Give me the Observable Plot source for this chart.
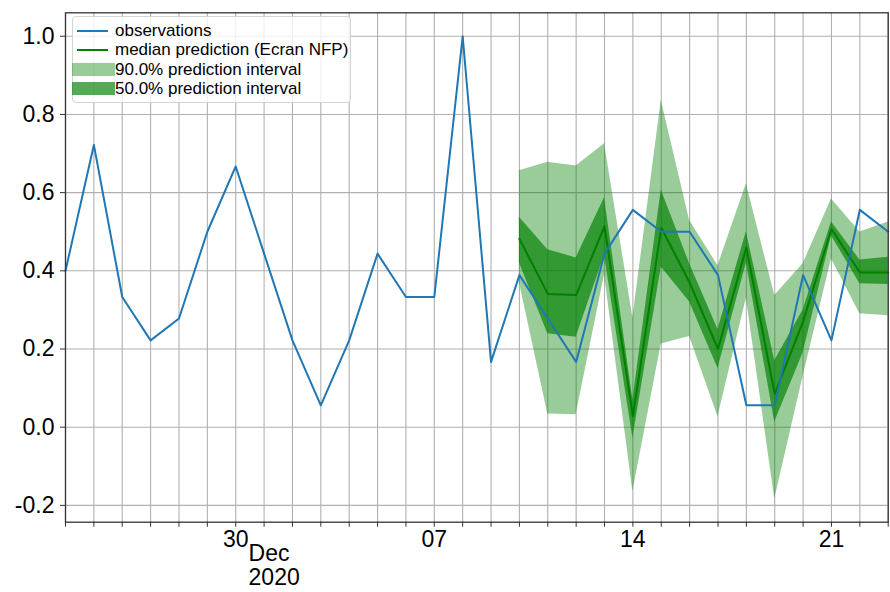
<!DOCTYPE html>
<html>
<head>
<meta charset="utf-8">
<script src="https://cdn.jsdelivr.net/npm/d3@7"></script>
<script src="https://cdn.jsdelivr.net/npm/@observablehq/plot@0.6"></script>
<style>
  html, body { margin: 0; padding: 0; background: white; }
  #wrap { position: relative; width: 890px; height: 592px; font-family: "Liberation Sans", Arial, sans-serif; }
  #legend {
    position: absolute; left: 72px; top: 16px; width: 277px; height: 85px;
    border: 1px solid #d4d4d4; border-radius: 4px; background: rgba(255,255,255,0.8);
    font-size: 17px; color: #000;
  }
  #legend .sw { position: absolute; }
  #legend .lab { position: absolute; left: 42px; line-height: 19px; white-space: nowrap; }
</style>
</head>
<body>
<div id="wrap"></div>
<script>
// Daily observations, 24 Nov – 23 Dec 2020
const obsStart = new Date(Date.UTC(2020, 10, 24));
const observations = [0.4, 0.722, 0.333, 0.222, 0.278, 0.5, 0.667, 0.444, 0.222, 0.056,
  0.222, 0.444, 0.333, 0.333, 1.0, 0.167, 0.389, 0.278, 0.167, 0.444,
  0.556, 0.5, 0.5, 0.389, 0.056, 0.056, 0.389, 0.222, 0.556, 0.5];

// Forecast, 10 Dec – 23 Dec 2020
const fcStart = new Date(Date.UTC(2020, 11, 10));
const median = [0.482, 0.341, 0.338, 0.514, 0.028, 0.51, 0.37, 0.2, 0.46, 0.085, 0.27, 0.507, 0.396, 0.396];
const hi90 = [0.656, 0.678, 0.668, 0.725, 0.28, 0.836, 0.529, 0.413, 0.623, 0.337, 0.418, 0.584, 0.499, 0.525];
const lo90 = [0.37, 0.034, 0.032, 0.39, -0.165, 0.213, 0.232, 0.027, 0.33, -0.184, 0.13, 0.43, 0.29, 0.285];
const hi50 = [0.537, 0.454, 0.433, 0.587, 0.07, 0.607, 0.418, 0.25, 0.5, 0.17, 0.3, 0.525, 0.428, 0.435];
const lo50 = [0.42, 0.239, 0.23, 0.44, -0.028, 0.41, 0.32, 0.15, 0.42, 0.013, 0.19, 0.49, 0.367, 0.365];

// Axis ticks
const yTicks = [-0.2, 0, 0.2, 0.4, 0.6, 0.8, 1.0];
const weekTicks = [new Date(Date.UTC(2020, 10, 30)), new Date(Date.UTC(2020, 11, 7)),
  new Date(Date.UTC(2020, 11, 14)), new Date(Date.UTC(2020, 11, 21))];
const monthTick = [new Date(Date.UTC(2020, 11, 1))];

const obsData = observations.map((v, i) => ({date: d3.utcDay.offset(obsStart, i), value: v}));
const fcData = median.map((m, i) => ({
  date: d3.utcDay.offset(fcStart, i), median: m,
  hi90: hi90[i], lo90: lo90[i], hi50: hi50[i], lo50: lo50[i]
}));
const xDomain = [obsData[0].date, obsData[obsData.length - 1].date];
const days = d3.utcDay.range(xDomain[0], d3.utcDay.offset(xDomain[1], 1));

const chart = Plot.plot({
  width: 890,
  height: 592,
  marginLeft: 65,
  marginRight: 2.3,
  marginTop: 12.3,
  marginBottom: 70.3,
  style: {fontFamily: "'Liberation Sans', Arial, sans-serif", fontSize: "23px", background: "white", color: "black"},
  x: {type: "utc", domain: xDomain},
  y: {domain: [-0.243, 1.06]},
  marks: [
    Plot.gridX(days, {stroke: "#b0b0b0", strokeOpacity: 1, strokeWidth: 1.1}),
    Plot.gridY(yTicks, {stroke: "#b0b0b0", strokeOpacity: 1, strokeWidth: 1.1}),
    Plot.areaY(fcData, {x: "date", y1: "lo90", y2: "hi90", fill: "#008000", fillOpacity: 0.4}),
    Plot.areaY(fcData, {x: "date", y1: "lo50", y2: "hi50", fill: "#008000", fillOpacity: 0.667}),
    Plot.lineY(fcData, {x: "date", y: "median", stroke: "#008000", strokeWidth: 2}),
    Plot.lineY(obsData, {x: "date", y: "value", stroke: "#1f77b4", strokeWidth: 2}),
    Plot.frame({stroke: "#333", strokeWidth: 1.3}),
    Plot.axisY(yTicks, {tickSize: 5, tickPadding: 6, tickFormat: d => d.toFixed(1), fontSize: 23, stroke: "#333", label: null}),
    Plot.axisX(days, {tickSize: 5, tickFormat: () => "", stroke: "#333", label: null}),
    Plot.axisX(weekTicks, {tickSize: 0, tickPadding: 8, tickFormat: d3.utcFormat("%d"), fontSize: 23, label: null}),
    Plot.axisX(monthTick, {tickSize: 0, tickPadding: 22, tickFormat: d => d3.utcFormat("%b")(d) + "\n" + d3.utcFormat("%Y")(d),
      textAnchor: "start", dx: -15.5, lineHeight: 1.04, fontSize: 23, label: null})
  ]
});

const wrap = document.getElementById("wrap");
wrap.appendChild(chart);

// Legend box in the upper-left corner of the plot area
const legendItems = [
  {label: "observations", kind: "line", color: "#1f77b4", opacity: 1},
  {label: "median prediction (Ecran NFP)", kind: "line", color: "#008000", opacity: 1},
  {label: "90.0% prediction interval", kind: "patch", color: "#008000", opacity: 0.4},
  {label: "50.0% prediction interval", kind: "patch", color: "#008000", opacity: 0.667}
];
const legend = document.createElement("div");
legend.id = "legend";
legendItems.forEach((item, i) => {
  const top = 4.2 + i * 19.2;
  const sw = document.createElement("div");
  sw.className = "sw";
  sw.style.background = item.color;
  sw.style.opacity = item.opacity;
  if (item.kind === "line") {
    sw.style.left = "4px"; sw.style.width = "31px"; sw.style.height = "2px";
    sw.style.top = (top + 8.5) + "px";
  } else {
    sw.style.left = "-1px"; sw.style.width = "43px"; sw.style.height = "13px";
    sw.style.top = (top + 3) + "px";
  }
  const lab = document.createElement("div");
  lab.className = "lab";
  lab.style.top = top + "px";
  lab.textContent = item.label;
  legend.appendChild(sw);
  legend.appendChild(lab);
});
wrap.appendChild(legend);
</script>
</body>
</html>
